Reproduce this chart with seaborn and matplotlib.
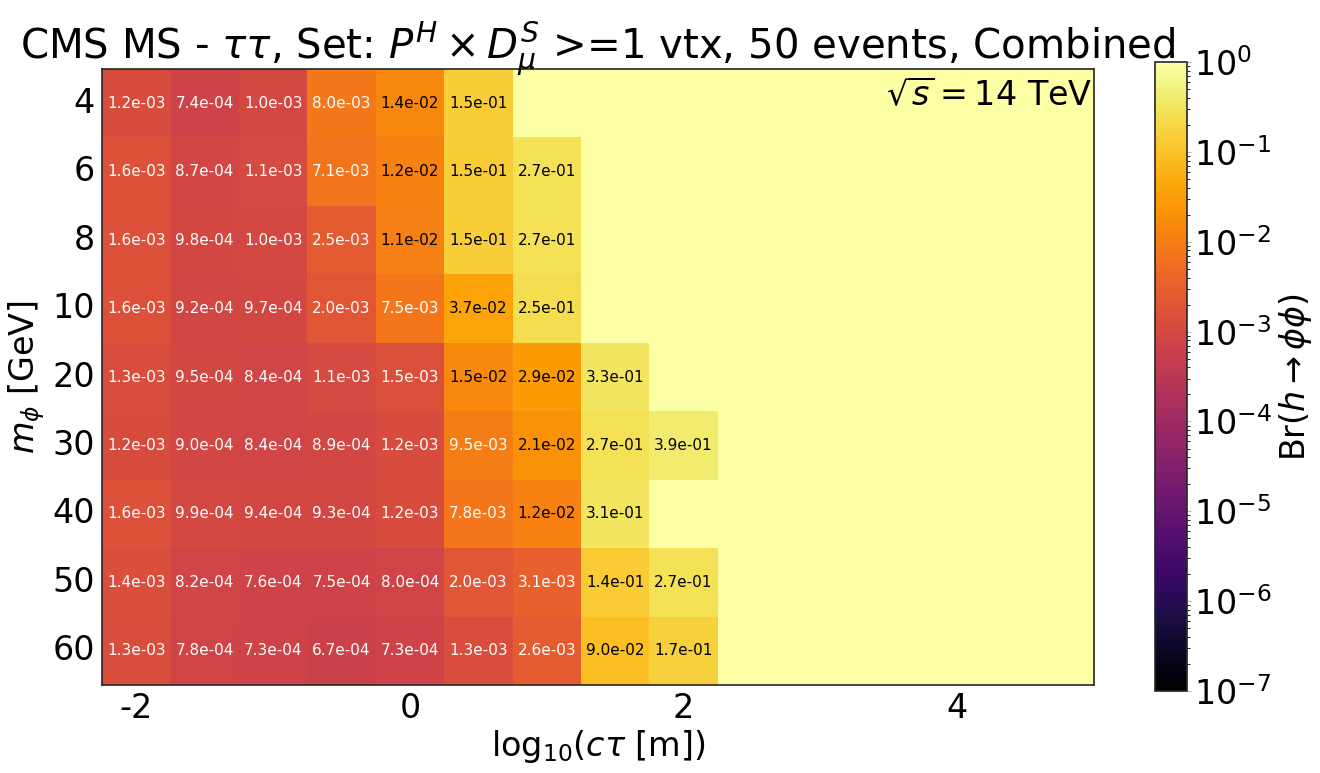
import numpy as np
import pandas as pd
import matplotlib
matplotlib.use("Agg")
import matplotlib.pyplot as plt
import seaborn as sns
from matplotlib.colors import LogNorm

# ---- data ----
masses = [4, 6, 8, 10, 20, 30, 40, 50, 60]
log_ctau = [-2.0, -1.5, -1.0, -0.5, 0.0, 0.5, 1.0, 1.5, 2.0,
            2.5, 3.0, 3.5, 4.0, 4.5, 5.0]
nan = np.nan
br_m4 = [1.2e-03, 7.4e-04, 1.0e-03, 8.0e-03, 1.4e-02, 1.5e-01]
br_m6 = [1.6e-03, 8.7e-04, 1.1e-03, 7.1e-03, 1.2e-02, 1.5e-01, 2.7e-01]
br_m8 = [1.6e-03, 9.8e-04, 1.0e-03, 2.5e-03, 1.1e-02, 1.5e-01, 2.7e-01]
br_m10 = [1.6e-03, 9.2e-04, 9.7e-04, 2.0e-03, 7.5e-03, 3.7e-02, 2.5e-01]
br_m20 = [1.3e-03, 9.5e-04, 8.4e-04, 1.1e-03, 1.5e-03, 1.5e-02, 2.9e-02, 3.3e-01]
br_m30 = [1.2e-03, 9.0e-04, 8.4e-04, 8.9e-04, 1.2e-03, 9.5e-03, 2.1e-02, 2.7e-01, 3.9e-01]
br_m40 = [1.6e-03, 9.9e-04, 9.4e-04, 9.3e-04, 1.2e-03, 7.8e-03, 1.2e-02, 3.1e-01]
br_m50 = [1.4e-03, 8.2e-04, 7.6e-04, 7.5e-04, 8.0e-04, 2.0e-03, 3.1e-03, 1.4e-01, 2.7e-01]
br_m60 = [1.3e-03, 7.8e-04, 7.3e-04, 6.7e-04, 7.3e-04, 1.3e-03, 2.6e-03, 9.0e-02, 1.7e-01]
rows = [br_m4, br_m6, br_m8, br_m10, br_m20, br_m30, br_m40, br_m50, br_m60]
x_ticks = [-2, 0, 2, 4]
cbar_ticks = [1e-7, 1e-6, 1e-5, 1e-4, 1e-3, 1e-2, 1e-1, 1e0]
vmin, vmax = 1e-7, 1.0
fill_value = 1.0  # excluded region shown at Br = 1
x_max = 5.0

# ---- build table ----
ncol = len(log_ctau)
vals = np.full((len(masses), ncol), nan)
for i, r in enumerate(rows):
    vals[i, :len(r)] = r
df = pd.DataFrame(vals, index=masses, columns=log_ctau)
annot = df.map(lambda v: "" if np.isnan(v) else f"{v:.1e}")
plot_df = df.fillna(fill_value)

sns.set_style("white")
plt.rcParams['font.family'] = ['DejaVu Sans']
plt.rcParams['mathtext.fontset'] = 'dejavusans'
for k in ["text.color", "axes.labelcolor", "xtick.color", "ytick.color"]:
    plt.rcParams[k] = "black"

fig = plt.figure(figsize=(13.2, 7.73), dpi=100)
ax = fig.add_axes([0.0773, 0.1138, 0.7515, 0.7969])
cax = fig.add_axes([0.875, 0.106, 0.0242, 0.8137])

sns.heatmap(plot_df, ax=ax, cbar_ax=cax, cmap="inferno",
            norm=LogNorm(vmin=vmin, vmax=vmax),
            annot=annot.values, fmt="", annot_kws={"fontsize": 11})

# annotation colours: white on dark cells, black on light cells
for t in ax.texts:
    s = t.get_text()
    if s:
        t.set_color("white" if float(s) < 1e-2 else "black")

# x axis: numeric log10(ctau) coordinates mapped onto heatmap cells
step = log_ctau[1] - log_ctau[0]
x0 = log_ctau[0] - step / 2
ax.set_xlim(0, (x_max - x0) / step)
ax.set_xticks([(v - x0) / step for v in x_ticks])
ax.set_xticklabels([str(v) for v in x_ticks], rotation=0, fontsize=24)
ax.set_yticklabels([str(m) for m in masses], rotation=0, fontsize=24)
ax.tick_params(axis="both", length=3, width=1, color="#bbbbbb", pad=2)

for s in ax.spines.values():
    s.set_visible(True)
    s.set_color("#262626")
    s.set_linewidth(1.2)

ax.set_xlabel(r"$\mathrm{log}_{10}(c\tau$ [m])", fontsize=24, labelpad=2)
ax.set_ylabel(r"$m_{\phi}$ [GeV]", fontsize=24, labelpad=4)
ax.set_title(r"CMS MS - $\tau\tau$, Set: $P^{H}\times D^{S}_{\mu}$ >=1 vtx, 50 events, Combined",
             fontsize=29, pad=8)
ax.text(0.998, 0.985, r"$\sqrt{s} = 14$ TeV", transform=ax.transAxes,
        ha="right", va="top", fontsize=24)

cb = ax.collections[0].colorbar
cb.outline.set_visible(True)
cb.outline.set_linewidth(1.2)
cb.outline.set_edgecolor("#262626")
cb.set_ticks(cbar_ticks)
cb.ax.tick_params(labelsize=24, length=3, color="#bbbbbb", pad=2)
cb.ax.yaxis.set_ticks_position("right")
cb.set_label(r"Br$(h \rightarrow \phi\phi)$", fontsize=24, labelpad=4)

fig.savefig("out.png", dpi=100)
